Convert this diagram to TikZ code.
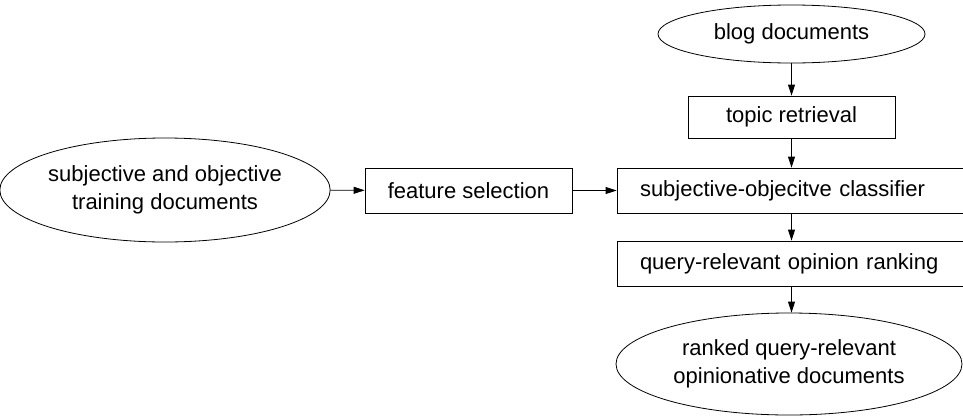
\documentclass[tikz,border=0pt]{standalone}
\usepackage{fontspec}
\setmainfont{Liberation Sans}
\usetikzlibrary{arrows.meta,shapes.geometric,positioning}

\tikzset{
  box/.style={draw,rectangle,inner sep=0pt},
  cutbox/.style={draw,rectangle,inner xsep=23pt,inner ysep=0pt,text width=315pt,align=left,minimum height=45pt},
  doc/.style={draw,ellipse,inner sep=0pt,align=center},
}

\begin{document}
\begin{tikzpicture}[x=1pt,y=-1pt,line width=0.8pt,>={Triangle[length=11pt,width=7pt]},
  font=\fontsize{22}{28}\selectfont]
  \useasboundingbox (0,0) rectangle (963,418);
  % right column
  \node[doc,minimum width=267pt,minimum height=58pt] (blog) at (791.5,34) {blog documents};
  \node[box,minimum width=207pt,minimum height=42pt] (topic) at (791.5,117) {topic retrieval};
  \node[cutbox] (clf) at (797.5,190.5) {subjective-objecitve classifier};
  \node[cutbox] (rank) at (797.5,263.5) {query-relevant opinion ranking};
  \node[doc,minimum width=346pt,minimum height=102pt] (ranked) at (789,364) {ranked query-relevant\\opinionative documents};
  % left part
  \node[doc,minimum width=310pt,minimum height=104pt] (train) at (165,190) {subjective and objective\\training documents};
  \node[box,minimum width=207pt,minimum height=45pt] (feat) at (468.5,190.5) {feature selection};

  \draw[->] (blog) -- (topic);
  \draw[->] (topic.south) -- (topic.south |- clf.north);
  \draw[->] (topic.south |- clf.south) -- (topic.south |- rank.north);
  \draw[->] (topic.south |- rank.south) -- (topic.south |- ranked.north);
  \draw[->] (train) -- (feat);
  \draw[->] (feat.east) -- (feat.east -| clf.west);
\end{tikzpicture}
\end{document}
